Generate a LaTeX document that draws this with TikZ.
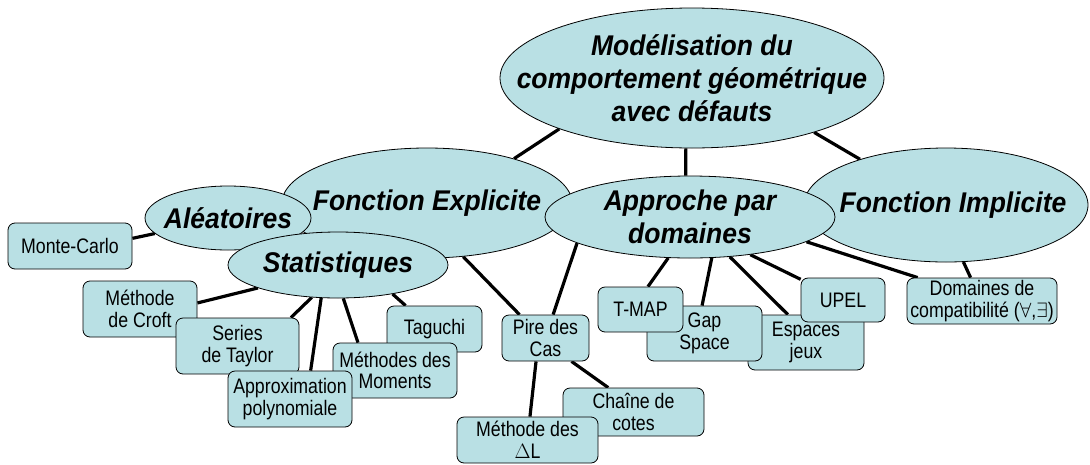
\documentclass[tikz,border=0pt]{standalone}
\usepackage{fontspec}
\newfontfamily\ellfont{Liberation Sans}[FakeStretch=0.93]
\newfontfamily\boxfont{Liberation Sans}[FakeStretch=0.845]
\usetikzlibrary{shapes.geometric,backgrounds}
\definecolor{nodefill}{RGB}{185,224,228}
\begin{document}
\begin{tikzpicture}[x=1pt,y=-1pt,
  ell/.style={ellipse,draw=black,line width=0.8pt,fill=nodefill,inner ysep=0pt,inner xsep=-60pt,align=center,
    font=\ellfont\bfseries\itshape\fontsize{28.5}{33}\selectfont},
  boxnode/.style={rectangle,rounded corners=7pt,draw=black,line width=0.8pt,fill=nodefill,
    inner sep=0pt,align=center,font=\boxfont\fontsize{21}{21.5}\selectfont},
  link/.style={line width=3.2pt,black}]
\useasboundingbox (0,0) rectangle (1090,464);
% ellipses
\node[ell,minimum width=290pt,minimum height=110pt] (fe) at (427,203) {Fonction Explicite};
\node[ell,minimum width=166pt,minimum height=64pt] (ale) at (228,218) {Aléatoires};
\node[ell,minimum width=220pt,minimum height=66pt] (stat) at (338,265) {Statistiques};
\node[ell,minimum width=284pt,minimum height=114pt] (fi) at (946,205) {\hspace*{14pt}Fonction Implicite};
\node[ell,minimum width=290pt,minimum height=82pt] (app) at (690,217) {Approche par\\domaines};
\node[ell,minimum width=384pt,minimum height=140pt] (top) at (692,78) {Modélisation du\\comportement géométrique\\avec défauts};
% boxes
\node[boxnode,minimum width=124pt,minimum height=46pt] (mc) at (70,246) {Monte-Carlo};
\node[boxnode,minimum width=114pt,minimum height=56pt] (croft) at (140,309) {Méthode\\de Croft};
\node[boxnode,minimum width=123pt,minimum height=56pt] (taylor) at (237.5,346) {Series\\de Taylor};
\node[boxnode,minimum width=95pt,minimum height=46pt] (taguchi) at (434.5,329) {Taguchi};
\node[boxnode,minimum width=124pt,minimum height=55pt] (moments) at (395,370.5) {Méthodes des\\Moments};
\node[boxnode,minimum width=124pt,minimum height=56pt] (approx) at (290,399) {Approximation\\polynomiale};
\node[boxnode,minimum width=87pt,minimum height=46pt] (pire) at (545.5,338) {Pire des\\Cas};
\node[boxnode,minimum width=116pt,minimum height=55pt] (esp) at (806,342.5) {Espaces\\jeux};
\node[boxnode,minimum width=115pt,minimum height=55pt] (gap) at (704.5,333.5) {Gap\\Space};
\node[boxnode,minimum width=85pt,minimum height=45pt] (tmap) at (640.5,309.5) {T-MAP};
\node[boxnode,minimum width=84pt,minimum height=44pt] (upel) at (843,300) {UPEL};
\node[boxnode,minimum width=150pt,minimum height=46pt] (dom) at (982,301) {Domaines de\\compatibilité (${\forall}$,${\exists}$)};
\node[boxnode,minimum width=141pt,minimum height=48pt] (chaine) at (633.5,412) {Chaîne de\\cotes};
\node[boxnode,minimum width=141pt,minimum height=46pt] (dl) at (527.5,440) {Méthode des\\$\Delta$L};
% connectors
\begin{scope}[on background layer]
\draw[link] (top.201) -- (fe.27);
\draw[link] (top.265) -- (app.96);
\draw[link] (top.336) -- (fi.152);
\draw[link] (fe.304) -- (pire.138);
\draw[link] (app.193) -- (pire.72);
\draw[link] (app.242) -- (tmap.72);
\draw[link] (app.298) -- (gap.95);
\draw[link] (app.315) -- (esp.123);
\draw[link] (app.328) -- (upel.154);
\draw[link] (app.348) -- (dom.160);
\draw[link] (fi.287) -- (dom.116);
\draw[link] (ale.192) -- (mc.7);
\draw[link] (stat.196) -- (croft.6);
\draw[link] (stat.231) -- (taylor.28);
\draw[link] (stat.243) -- (approx.54);
\draw[link] (stat.279) -- (moments.143);
\draw[link] (stat.332) -- (taguchi.141);
\draw[link] (pire.248) -- (dl.84);
\draw[link] (pire.318) -- (chaine.136);
\end{scope}
\end{tikzpicture}
\end{document}
